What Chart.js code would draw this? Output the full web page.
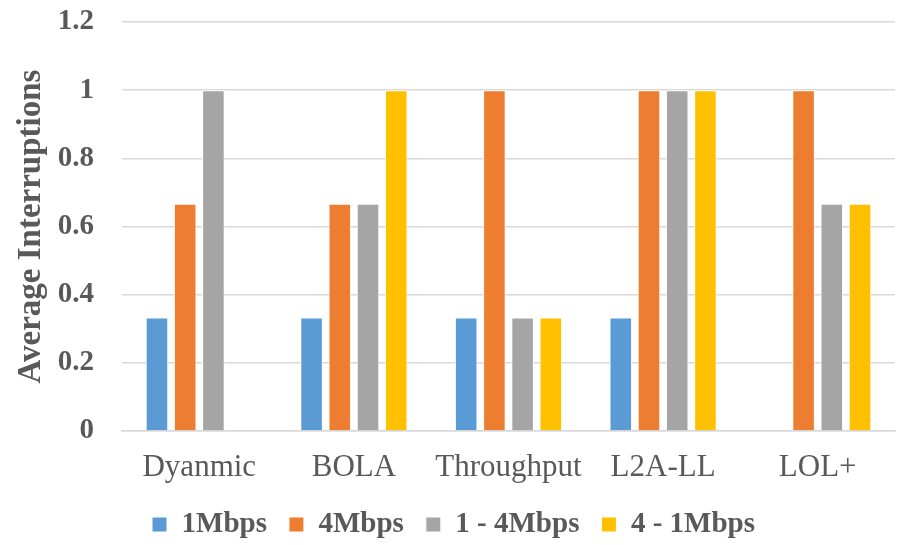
<!DOCTYPE html>
<html>
<head>
<meta charset="utf-8">
<script src="https://cdn.jsdelivr.net/npm/chart.js@4.4.1/dist/chart.umd.min.js"></script>
<style>
  html, body { margin: 0; padding: 0; background: #fff; }
  #wrap { width: 897px; height: 545px; }
</style>
</head>
<body>
<div id="wrap"><canvas id="grafico"></canvas></div>
<script>
// categorias e series
const categorias = ['Dyanmic', 'BOLA', 'Throughput', 'L2A-LL', 'LOL+'];
const serie1M = [0.333, 0.333, 0.333, 0.333, 0];
const serie4M = [0.667, 0.667, 1, 1, 1];
const serie1a4 = [1, 0.667, 0.333, 1, 0.667];
const serie4a1 = [0, 1, 0.333, 1, 0.667];
const nomesSeries = ['1Mbps', '4Mbps', '1 - 4Mbps', '4 - 1Mbps'];
const cores = ['#5B9BD5', '#ED7D31', '#A5A5A5', '#FFC000'];

const corTexto = '#595959';
const fonte = "'Liberation Serif', 'Times New Roman', serif";

const dados = [serie1M, serie4M, serie1a4, serie4a1];

// deixa a legenda mais baixa sem perder o espaçamento entre os itens
const ajusteLegenda = {
    id: 'ajusteLegenda',
    afterInit(chart) {
        const lg = chart.legend;
        if (!lg) return;
        const fitOrig = lg.fit;
        lg.fit = function () {
            fitOrig.call(this);
            this.height = 57;
        };
    }
};

const ctx = document.getElementById('grafico').getContext('2d');
new Chart(ctx, {
    type: 'bar',
    data: {
        labels: categorias,
        datasets: dados.map((d, i) => ({
            label: nomesSeries[i],
            data: d,
            backgroundColor: cores[i],
            borderColor: '#ffffff',
            borderWidth: 1,
            barPercentage: 0.8,
            categoryPercentage: 0.73
        }))
    },
    plugins: [ajusteLegenda],
    options: {
        responsive: true,
        maintainAspectRatio: false,
        animation: false,
        layout: { padding: { top: 22, right: 2, left: 12, bottom: 0 } },
        plugins: {
            tooltip: { enabled: false },
            legend: {
                position: 'bottom',
                labels: {
                    color: corTexto,
                    font: { family: fonte, size: 29, weight: 'bold' },
                    boxWidth: 15,
                    boxHeight: 15,
                    padding: 22,
                    useBorderRadius: false
                }
            }
        },
        scales: {
            y: {
                min: 0,
                max: 1.2,
                afterFit: s => { s.width = 110; s.paddingTop = 0; s.paddingBottom = 0; },
                ticks: {
                    stepSize: 0.2,
                    color: corTexto,
                    padding: 28,
                    font: { family: fonte, size: 29, weight: 'bold' },
                    callback: v => String(Number(v.toFixed(1)))
                },
                grid: { color: '#D9D9D9', lineWidth: 1.5, drawTicks: false },
                border: { display: false },
                title: {
                    display: true,
                    text: 'Average Interruptions',
                    color: corTexto,
                    font: { family: fonte, size: 33, weight: 'bold' },
                    padding: 0
                }
            },
            x: {
                afterFit: s => { s.height = 57; },
                ticks: {
                    color: corTexto,
                    padding: 18,
                    font: { family: fonte, size: 31 }
                },
                grid: { display: false, drawTicks: false },
                border: { color: '#D9D9D9', width: 1.5 }
            }
        }
    }
});
</script>
</body>
</html>
